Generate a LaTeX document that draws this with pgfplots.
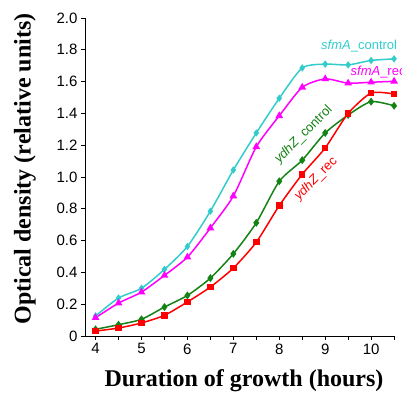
\documentclass[border=0pt]{standalone}
\usepackage{pgfplots}
\pgfplotsset{compat=1.18}
\usepackage{fontspec}
\setmainfont{Liberation Sans}
\newfontfamily\serifb{Liberation Serif}
\definecolor{ccyan}{RGB}{51,204,204}
\definecolor{cmag}{RGB}{255,0,255}
\definecolor{cgreen}{RGB}{20,130,20}
\definecolor{cred}{RGB}{255,0,0}
\pgfplotstableread{
x ca ma gy ry
4.0 0.126 0.115 0.042 0.031
4.5 0.239 0.207 0.071 0.050
5.0 0.300 0.276 0.105 0.082
5.5 0.419 0.381 0.182 0.130
6.0 0.563 0.496 0.255 0.214
6.5 0.785 0.679 0.364 0.308
7.0 1.044 0.880 0.517 0.427
7.5 1.277 1.190 0.712 0.590
8.0 1.495 1.385 0.973 0.820
8.5 1.686 1.564 1.106 1.017
9.0 1.710 1.617 1.277 1.183
9.5 1.705 1.590 1.390 1.400
10.0 1.733 1.596 1.474 1.528
10.5 1.743 1.602 1.448 1.522
}\data
\begin{document}
\begin{tikzpicture}
\begin{axis}[
  scale only axis, width=310pt, height=318pt,
  xmin=3.77, xmax=10.52, ymin=0, ymax=2.0,
  axis x line*=bottom, axis y line*=left,
  axis line style={black, line width=0.8pt},
  tick align=outside, tick style={black, line width=0.6pt},
  major tick length=4pt, minor tick length=4pt,
  xtick={4,5,6,7,8,9,10},
  minor xtick={4.5,5.5,6.5,7.5,8.5,9.5,10.5},
  ytick={0,0.2,0.4,0.6,0.8,1.0,1.2,1.4,1.6,1.8,2.0},
  yticklabels={0,0.2,0.4,0.6,0.8,1.0,1.2,1.4,1.6,1.8,2.0},
  /pgf/number format/assume math mode=true,
  tick label style={font=\fontsize{15}{18}\selectfont},
  xlabel={Duration of growth (hours)},
  ylabel={Optical density (relative units)},
  label style={font=\serifb\bfseries\fontsize{24}{28}\selectfont},
  x label style={at={(axis description cs:0.513,-0.14)}, anchor=center},
  y label style={at={(axis description cs:-0.194,0.525)}, anchor=center, rotate=0},
  clip=false,
]
\coordinate (bl) at (rel axis cs:0,0);
\coordinate (tr) at (rel axis cs:1,1);
\addplot[ccyan, line width=1.5pt, smooth, tension=0.4, mark=diamond*, mark size=2.5pt, mark options={solid}] table[x=x,y=ca]{\data};
\addplot[cmag, line width=1.5pt, smooth, tension=0.4, mark=triangle*, mark size=3pt] table[x=x,y=ma]{\data};
\addplot[cgreen, line width=1.5pt, smooth, tension=0.4, mark=diamond*, mark size=2.8pt] table[x=x,y=gy]{\data};
\addplot[cred, line width=1.5pt, smooth, tension=0.4, mark=square*, mark size=2.5pt] table[x=x,y=ry]{\data};
\node[anchor=east, text=ccyan, font=\fontsize{13}{15}\selectfont, inner sep=0pt] at (axis cs:10.57,1.824) {\textit{sfmA}\_control};
\node[anchor=west, text=cmag, font=\fontsize{13}{15}\selectfont, inner sep=0pt] at (axis cs:9.55,1.662) {\textit{sfmA}\_rec};
\node[rotate=45, text=cgreen, font=\fontsize{13}{15}\selectfont, inner sep=0pt] at (axis cs:8.53,1.266) {\textit{ydhZ}\_control};
\node[rotate=45, text=cred, font=\fontsize{13}{15}\selectfont, inner sep=0pt] at (axis cs:8.80,0.987) {\textit{ydhZ}\_rec};
\end{axis}
\pgfresetboundingbox
\useasboundingbox ([shift={(-85pt,-60pt)}]bl) rectangle ([shift={(7pt,18pt)}]tr);
\end{tikzpicture}
\end{document}
